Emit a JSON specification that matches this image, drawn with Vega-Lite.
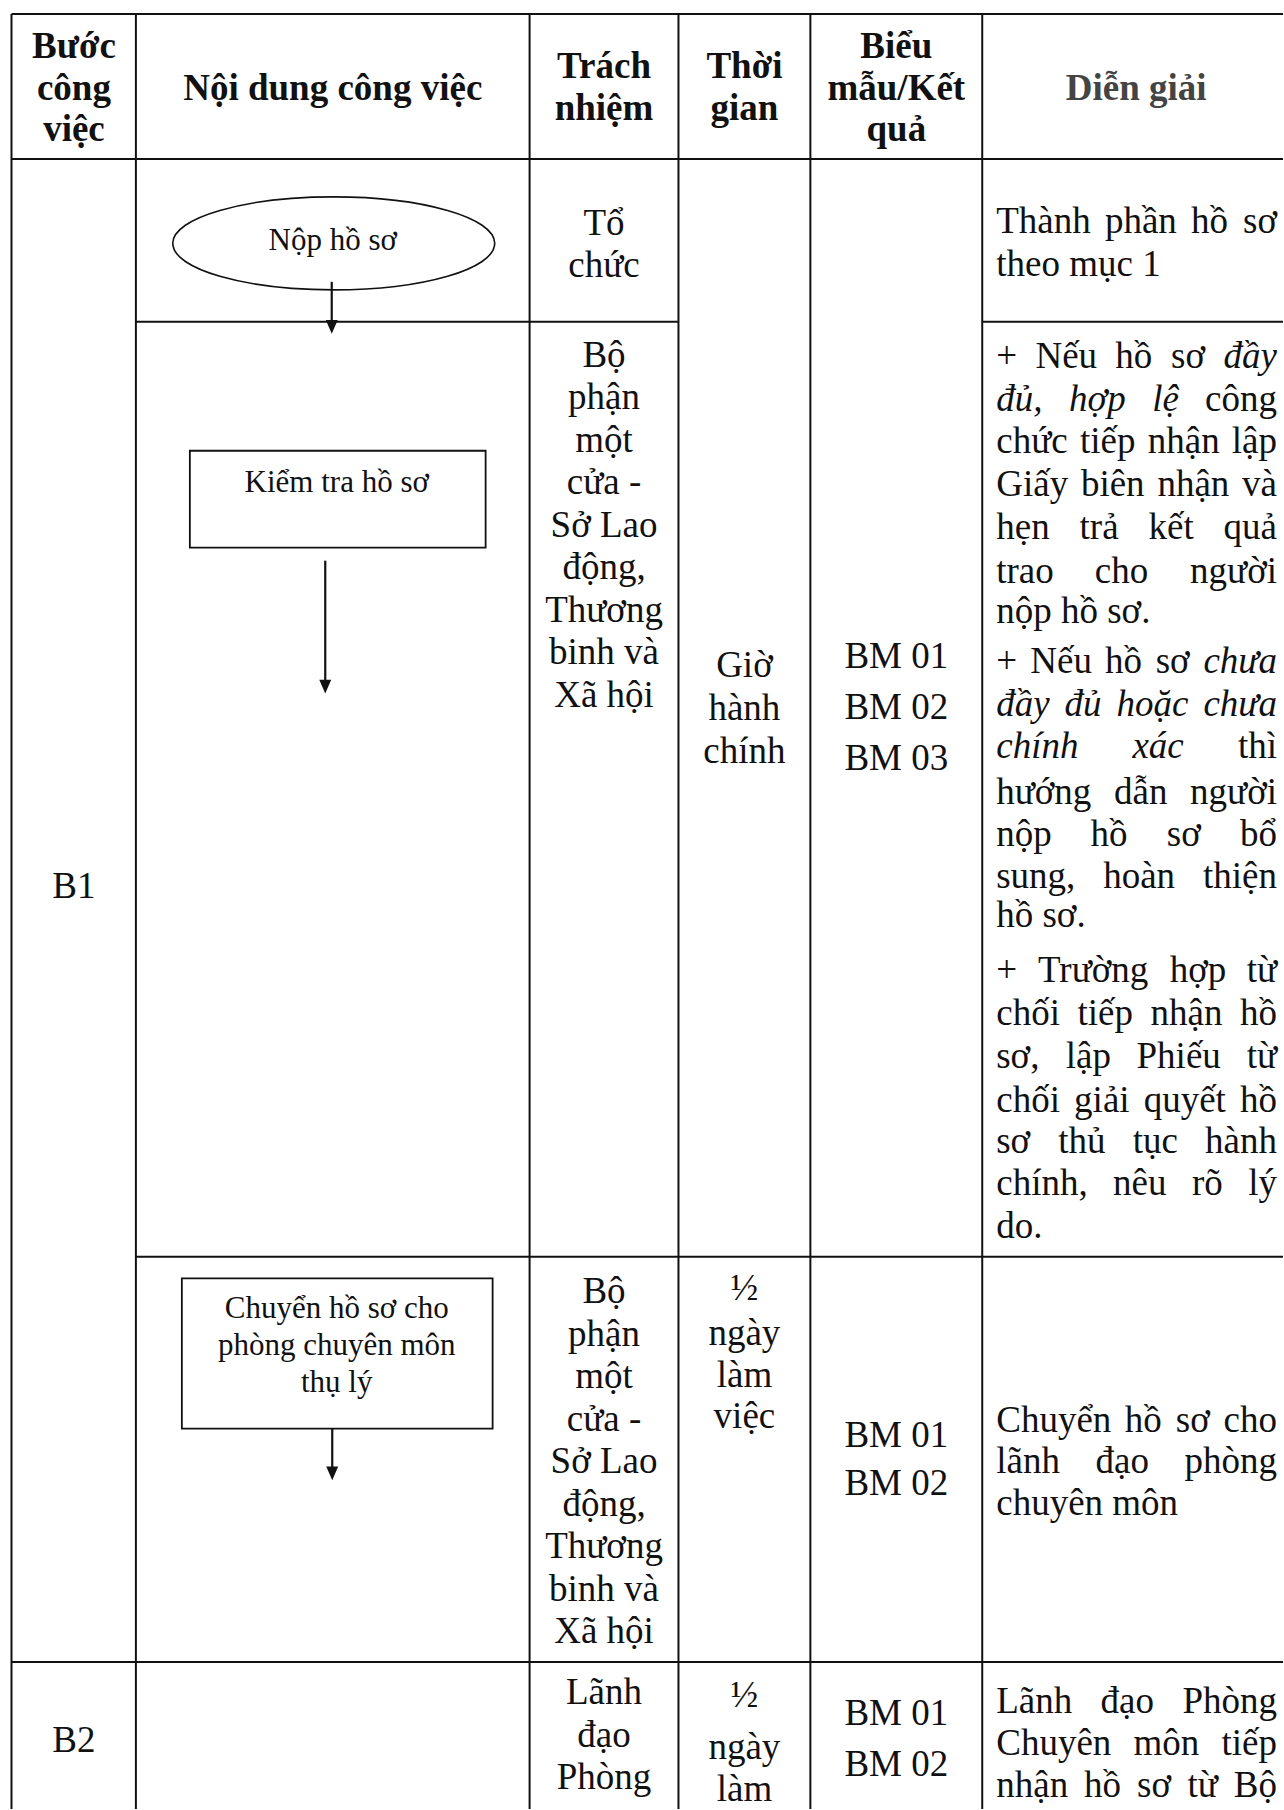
{
  "$schema": "https://vega.github.io/schema/vega-lite/v6.json",
  "width": 1284,
  "height": 1810,
  "padding": 0,
  "autosize": {"type": "fit", "contains": "padding"},
  "background": "white",
  "config": {"view": {"stroke": null}},
  "datasets": {
    "grid": [
      {"x": 11.5, "x2": 11.5, "y": 14, "y2": 1810},
      {"x": 136, "x2": 136, "y": 14, "y2": 1810},
      {"x": 530, "x2": 530, "y": 14, "y2": 1810},
      {"x": 679, "x2": 679, "y": 14, "y2": 1810},
      {"x": 811, "x2": 811, "y": 14, "y2": 1810},
      {"x": 983, "x2": 983, "y": 14, "y2": 1810},
      {"x": 11.5, "x2": 1284, "y": 14, "y2": 14},
      {"x": 11.5, "x2": 1284, "y": 159, "y2": 159},
      {"x": 136, "x2": 679, "y": 322, "y2": 322},
      {"x": 983, "x2": 1284, "y": 322, "y2": 322},
      {"x": 136, "x2": 1284, "y": 1257.5, "y2": 1257.5},
      {"x": 11.5, "x2": 1284, "y": 1663, "y2": 1663}
    ],
    "boxes": [
      {"x": 190, "x2": 486, "y": 451, "y2": 548},
      {"x": 182, "x2": 493, "y": 1279, "y2": 1429.5}
    ],
    "ellipse": [{"x": 334, "y": 243.5}],
    "arrows": [
      {"x": 332, "y": 282, "y2": 326},
      {"x": 325.5, "y": 561, "y2": 684},
      {"x": 332.5, "y": 1429.5, "y2": 1472}
    ],
    "heads": [
      {"x": 332, "y": 334},
      {"x": 325.5, "y": 694},
      {"x": 332.5, "y": 1481}
    ],
    "header": [
      {"t": "Bước", "x": 74, "y": 47.5},
      {"t": "công", "x": 74, "y": 89.5},
      {"t": "việc", "x": 74, "y": 130.5},
      {"t": "Nội dung công việc", "x": 333, "y": 89.5},
      {"t": "Trách", "x": 604.5, "y": 67.5},
      {"t": "nhiệm", "x": 604.5, "y": 109.5},
      {"t": "Thời", "x": 745, "y": 67.5},
      {"t": "gian", "x": 745, "y": 109.5},
      {"t": "Biểu", "x": 897, "y": 47.5},
      {"t": "mẫu/Kết", "x": 897, "y": 89.5},
      {"t": "quả", "x": 897, "y": 130.5}
    ],
    "headerGray": [
      {"t": "Diễn giải", "x": 1137, "y": 89.5}
    ],
    "cells": [
      {"t": "B1", "x": 74, "y": 887},
      {"t": "B2", "x": 74, "y": 1742},
      {"t": "Tổ", "x": 604.5, "y": 224},
      {"t": "chức", "x": 604.5, "y": 266},
      {"t": "Bộ", "x": 604.5, "y": 356},
      {"t": "phận", "x": 604.5, "y": 398.5},
      {"t": "một", "x": 604.5, "y": 441},
      {"t": "cửa -", "x": 604.5, "y": 483.5},
      {"t": "Sở Lao", "x": 604.5, "y": 526},
      {"t": "động,", "x": 604.5, "y": 568.5},
      {"t": "Thương", "x": 604.5, "y": 611},
      {"t": "binh và", "x": 604.5, "y": 653.5},
      {"t": "Xã hội", "x": 604.5, "y": 696},
      {"t": "Bộ", "x": 604.5, "y": 1293},
      {"t": "phận", "x": 604.5, "y": 1335.5},
      {"t": "một", "x": 604.5, "y": 1378},
      {"t": "cửa -", "x": 604.5, "y": 1420.5},
      {"t": "Sở Lao", "x": 604.5, "y": 1463},
      {"t": "động,", "x": 604.5, "y": 1505.5},
      {"t": "Thương", "x": 604.5, "y": 1548},
      {"t": "binh và", "x": 604.5, "y": 1590.5},
      {"t": "Xã hội", "x": 604.5, "y": 1633},
      {"t": "Lãnh", "x": 604.5, "y": 1694},
      {"t": "đạo", "x": 604.5, "y": 1737},
      {"t": "Phòng", "x": 604.5, "y": 1779},
      {"t": "Giờ", "x": 745, "y": 666},
      {"t": "hành", "x": 745, "y": 709},
      {"t": "chính", "x": 745, "y": 752},
      {"t": "½", "x": 745, "y": 1290},
      {"t": "ngày", "x": 745, "y": 1335},
      {"t": "làm", "x": 745, "y": 1377},
      {"t": "việc", "x": 745, "y": 1418},
      {"t": "½", "x": 745, "y": 1697},
      {"t": "ngày", "x": 745, "y": 1749},
      {"t": "làm", "x": 745, "y": 1791},
      {"t": "BM 01", "x": 897, "y": 657},
      {"t": "BM 02", "x": 897, "y": 708},
      {"t": "BM 03", "x": 897, "y": 759},
      {"t": "BM 01", "x": 897, "y": 1437},
      {"t": "BM 02", "x": 897, "y": 1485},
      {"t": "BM 01", "x": 897, "y": 1715},
      {"t": "BM 02", "x": 897, "y": 1766}
    ],
    "flow": [
      {"t": "Nộp hồ sơ", "x": 333, "y": 241},
      {"t": "Kiểm tra hồ sơ", "x": 337, "y": 483},
      {"t": "Chuyển hồ sơ cho", "x": 337, "y": 1310},
      {"t": "phòng chuyên môn", "x": 337, "y": 1347},
      {"t": "thụ lý", "x": 337, "y": 1384}
    ],
    "desc": [
      {"t": "Thành", "x": 997, "y": 222, "a": "l", "i": 0},
      {"t": "phần", "x": 1141.8, "y": 222, "a": "c", "i": 0},
      {"t": "hồ", "x": 1210.5, "y": 222, "a": "c", "i": 0},
      {"t": "sơ", "x": 1278, "y": 222, "a": "r", "i": 0},
      {"t": "theo mục 1", "x": 997, "y": 265, "a": "l", "i": 0},

      {"t": "+", "x": 997, "y": 357, "a": "l", "i": 0},
      {"t": "Nếu", "x": 1067.1, "y": 357, "a": "c", "i": 0},
      {"t": "hồ", "x": 1134.7, "y": 357, "a": "c", "i": 0},
      {"t": "sơ", "x": 1188.9, "y": 357, "a": "c", "i": 0},
      {"t": "đầy", "x": 1278, "y": 357, "a": "r", "i": 1},

      {"t": "đủ,", "x": 997, "y": 400, "a": "l", "i": 1},
      {"t": "hợp", "x": 1098.2, "y": 400, "a": "c", "i": 1},
      {"t": "lệ", "x": 1166.5, "y": 400, "a": "c", "i": 1},
      {"t": "công", "x": 1278, "y": 400, "a": "r", "i": 0},

      {"t": "chức", "x": 997, "y": 442, "a": "l", "i": 0},
      {"t": "tiếp", "x": 1108.6, "y": 442, "a": "c", "i": 0},
      {"t": "nhận", "x": 1184.6, "y": 442, "a": "c", "i": 0},
      {"t": "lập", "x": 1278, "y": 442, "a": "r", "i": 0},

      {"t": "Giấy", "x": 997, "y": 485, "a": "l", "i": 0},
      {"t": "biên", "x": 1113.6, "y": 485, "a": "c", "i": 0},
      {"t": "nhận", "x": 1194.3, "y": 485, "a": "c", "i": 0},
      {"t": "và", "x": 1278, "y": 485, "a": "r", "i": 0},

      {"t": "hẹn", "x": 997, "y": 528, "a": "l", "i": 0},
      {"t": "trả", "x": 1099.9, "y": 528, "a": "c", "i": 0},
      {"t": "kết", "x": 1172, "y": 528, "a": "c", "i": 0},
      {"t": "quả", "x": 1278, "y": 528, "a": "r", "i": 0},

      {"t": "trao", "x": 997, "y": 572, "a": "l", "i": 0},
      {"t": "cho", "x": 1122.3, "y": 572, "a": "c", "i": 0},
      {"t": "người", "x": 1278, "y": 572, "a": "r", "i": 0},

      {"t": "nộp hồ sơ.", "x": 997, "y": 612, "a": "l", "i": 0},

      {"t": "+", "x": 997, "y": 662, "a": "l", "i": 0},
      {"t": "Nếu", "x": 1061.9, "y": 662, "a": "c", "i": 0},
      {"t": "hồ", "x": 1124.5, "y": 662, "a": "c", "i": 0},
      {"t": "sơ", "x": 1173.6, "y": 662, "a": "c", "i": 0},
      {"t": "chưa", "x": 1278, "y": 662, "a": "r", "i": 1},

      {"t": "đầy", "x": 997, "y": 705, "a": "l", "i": 1},
      {"t": "đủ", "x": 1083.9, "y": 705, "a": "c", "i": 1},
      {"t": "hoặc", "x": 1153.3, "y": 705, "a": "c", "i": 1},
      {"t": "chưa", "x": 1278, "y": 705, "a": "r", "i": 1},

      {"t": "chính", "x": 997, "y": 747, "a": "l", "i": 1},
      {"t": "xác", "x": 1159, "y": 747, "a": "c", "i": 1},
      {"t": "thì", "x": 1278, "y": 747, "a": "r", "i": 0},

      {"t": "hướng", "x": 997, "y": 793, "a": "l", "i": 0},
      {"t": "dẫn", "x": 1141.6, "y": 793, "a": "c", "i": 0},
      {"t": "người", "x": 1278, "y": 793, "a": "r", "i": 0},

      {"t": "nộp", "x": 997, "y": 835, "a": "l", "i": 0},
      {"t": "hồ", "x": 1109.9, "y": 835, "a": "c", "i": 0},
      {"t": "sơ", "x": 1184.7, "y": 835, "a": "c", "i": 0},
      {"t": "bổ", "x": 1278, "y": 835, "a": "r", "i": 0},

      {"t": "sung,", "x": 997, "y": 877, "a": "l", "i": 0},
      {"t": "hoàn", "x": 1140, "y": 877, "a": "c", "i": 0},
      {"t": "thiện", "x": 1278, "y": 877, "a": "r", "i": 0},

      {"t": "hồ sơ.", "x": 997, "y": 917, "a": "l", "i": 0},

      {"t": "+", "x": 997, "y": 972, "a": "l", "i": 0},
      {"t": "Trường", "x": 1094, "y": 972, "a": "c", "i": 0},
      {"t": "hợp", "x": 1198.9, "y": 972, "a": "c", "i": 0},
      {"t": "từ", "x": 1278, "y": 972, "a": "r", "i": 0},

      {"t": "chối", "x": 997, "y": 1015, "a": "l", "i": 0},
      {"t": "tiếp", "x": 1106.1, "y": 1015, "a": "c", "i": 0},
      {"t": "nhận", "x": 1187.4, "y": 1015, "a": "c", "i": 0},
      {"t": "hồ", "x": 1278, "y": 1015, "a": "r", "i": 0},

      {"t": "sơ,", "x": 997, "y": 1058, "a": "l", "i": 0},
      {"t": "lập", "x": 1089.2, "y": 1058, "a": "c", "i": 0},
      {"t": "Phiếu", "x": 1179.6, "y": 1058, "a": "c", "i": 0},
      {"t": "từ", "x": 1278, "y": 1058, "a": "r", "i": 0},

      {"t": "chối", "x": 997, "y": 1102, "a": "l", "i": 0},
      {"t": "giải", "x": 1102.7, "y": 1102, "a": "c", "i": 0},
      {"t": "quyết", "x": 1185.7, "y": 1102, "a": "c", "i": 0},
      {"t": "hồ", "x": 1278, "y": 1102, "a": "r", "i": 0},

      {"t": "sơ", "x": 997, "y": 1143, "a": "l", "i": 0},
      {"t": "thủ", "x": 1082.7, "y": 1143, "a": "c", "i": 0},
      {"t": "tục", "x": 1156.2, "y": 1143, "a": "c", "i": 0},
      {"t": "hành", "x": 1278, "y": 1143, "a": "r", "i": 0},

      {"t": "chính,", "x": 997, "y": 1185, "a": "l", "i": 0},
      {"t": "nêu", "x": 1140.7, "y": 1185, "a": "c", "i": 0},
      {"t": "rõ", "x": 1208.3, "y": 1185, "a": "c", "i": 0},
      {"t": "lý", "x": 1278, "y": 1185, "a": "r", "i": 0},

      {"t": "do.", "x": 997, "y": 1228, "a": "l", "i": 0},

      {"t": "Chuyển", "x": 997, "y": 1422, "a": "l", "i": 0},
      {"t": "hồ", "x": 1144.2, "y": 1422, "a": "c", "i": 0},
      {"t": "sơ", "x": 1193.7, "y": 1422, "a": "c", "i": 0},
      {"t": "cho", "x": 1278, "y": 1422, "a": "r", "i": 0},

      {"t": "lãnh", "x": 997, "y": 1463, "a": "l", "i": 0},
      {"t": "đạo", "x": 1123.1, "y": 1463, "a": "c", "i": 0},
      {"t": "phòng", "x": 1278, "y": 1463, "a": "r", "i": 0},

      {"t": "chuyên môn", "x": 997, "y": 1505, "a": "l", "i": 0},

      {"t": "Lãnh", "x": 997, "y": 1703, "a": "l", "i": 0},
      {"t": "đạo", "x": 1128.2, "y": 1703, "a": "c", "i": 0},
      {"t": "Phòng", "x": 1278, "y": 1703, "a": "r", "i": 0},

      {"t": "Chuyên", "x": 997, "y": 1745, "a": "l", "i": 0},
      {"t": "môn", "x": 1167.3, "y": 1745, "a": "c", "i": 0},
      {"t": "tiếp", "x": 1278, "y": 1745, "a": "r", "i": 0},

      {"t": "nhận", "x": 997, "y": 1787, "a": "l", "i": 0},
      {"t": "hồ", "x": 1103.3, "y": 1787, "a": "c", "i": 0},
      {"t": "sơ", "x": 1155, "y": 1787, "a": "c", "i": 0},
      {"t": "từ", "x": 1203.6, "y": 1787, "a": "c", "i": 0},
      {"t": "Bộ", "x": 1278, "y": 1787, "a": "r", "i": 0}
    ]
  },
  "encoding": {
    "x": {"field": "x", "type": "quantitative", "scale": {"domain": [0, 1284], "nice": false, "zero": false}, "axis": null},
    "y": {"field": "y", "type": "quantitative", "scale": {"domain": [0, 1810], "nice": false, "zero": false, "reverse": true}, "axis": null}
  },
  "layer": [
    {
      "data": {"name": "grid"},
      "mark": {"type": "rule", "color": "#111111", "strokeWidth": 2},
      "encoding": {"x2": {"field": "x2"}, "y2": {"field": "y2"}}
    },
    {
      "data": {"name": "boxes"},
      "mark": {"type": "rect", "fill": "white", "stroke": "#111111", "strokeWidth": 1.8},
      "encoding": {"x2": {"field": "x2"}, "y2": {"field": "y2"}}
    },
    {
      "data": {"name": "ellipse"},
      "mark": {"type": "point", "filled": false, "stroke": "#111111", "strokeWidth": 1.6, "opacity": 1, "size": 103684,
        "shape": "M-1,0C-1,-0.1596,-0.5523,-0.289,0,-0.289C0.5523,-0.289,1,-0.1596,1,0C1,0.1596,0.5523,0.289,0,0.289C-0.5523,0.289,-1,0.1596,-1,0Z"},
      "encoding": {}
    },
    {
      "data": {"name": "arrows"},
      "mark": {"type": "rule", "color": "#111111", "strokeWidth": 2.2},
      "encoding": {"y2": {"field": "y2"}}
    },
    {
      "data": {"name": "heads"},
      "mark": {"type": "point", "filled": true, "color": "#111111", "opacity": 1, "size": 144, "shape": "M-1,-2.3L1,-2.3L0,0Z"},
      "encoding": {}
    },
    {
      "data": {"name": "header"},
      "mark": {"type": "text", "font": "Liberation Serif", "fontSize": 37, "fontWeight": "bold", "baseline": "middle", "align": "center", "color": "#111111"},
      "encoding": {"text": {"field": "t"}}
    },
    {
      "data": {"name": "headerGray"},
      "mark": {"type": "text", "font": "Liberation Serif", "fontSize": 37, "fontWeight": "bold", "baseline": "middle", "align": "center", "color": "#444444"},
      "encoding": {"text": {"field": "t"}}
    },
    {
      "data": {"name": "cells"},
      "mark": {"type": "text", "font": "Liberation Serif", "fontSize": 37, "baseline": "middle", "align": "center", "color": "#111111"},
      "encoding": {"text": {"field": "t"}}
    },
    {
      "data": {"name": "flow"},
      "mark": {"type": "text", "font": "Liberation Serif", "fontSize": 31, "baseline": "middle", "align": "center", "color": "#111111"},
      "encoding": {"text": {"field": "t"}}
    },
    {
      "data": {"name": "desc"},
      "transform": [{"filter": "datum.a == 'l' && datum.i == 0"}],
      "mark": {"type": "text", "font": "Liberation Serif", "fontSize": 37, "baseline": "middle", "align": "left", "color": "#111111"},
      "encoding": {"text": {"field": "t"}}
    },
    {
      "data": {"name": "desc"},
      "transform": [{"filter": "datum.a == 'c' && datum.i == 0"}],
      "mark": {"type": "text", "font": "Liberation Serif", "fontSize": 37, "baseline": "middle", "align": "center", "color": "#111111"},
      "encoding": {"text": {"field": "t"}}
    },
    {
      "data": {"name": "desc"},
      "transform": [{"filter": "datum.a == 'r' && datum.i == 0"}],
      "mark": {"type": "text", "font": "Liberation Serif", "fontSize": 37, "baseline": "middle", "align": "right", "color": "#111111"},
      "encoding": {"text": {"field": "t"}}
    },
    {
      "data": {"name": "desc"},
      "transform": [{"filter": "datum.a == 'l' && datum.i == 1"}],
      "mark": {"type": "text", "font": "Liberation Serif", "fontSize": 37, "fontStyle": "italic", "baseline": "middle", "align": "left", "color": "#111111"},
      "encoding": {"text": {"field": "t"}}
    },
    {
      "data": {"name": "desc"},
      "transform": [{"filter": "datum.a == 'c' && datum.i == 1"}],
      "mark": {"type": "text", "font": "Liberation Serif", "fontSize": 37, "fontStyle": "italic", "baseline": "middle", "align": "center", "color": "#111111"},
      "encoding": {"text": {"field": "t"}}
    },
    {
      "data": {"name": "desc"},
      "transform": [{"filter": "datum.a == 'r' && datum.i == 1"}],
      "mark": {"type": "text", "font": "Liberation Serif", "fontSize": 37, "fontStyle": "italic", "baseline": "middle", "align": "right", "color": "#111111"},
      "encoding": {"text": {"field": "t"}}
    }
  ]
}
